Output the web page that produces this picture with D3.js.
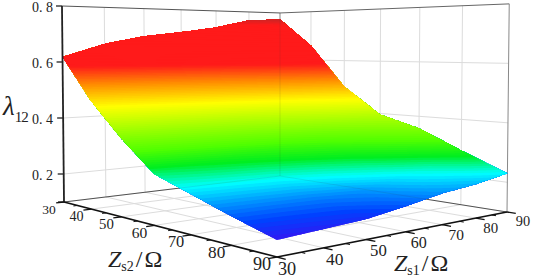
<!DOCTYPE html>
<html>
<head>
<meta charset="utf-8">
<script src="https://cdn.jsdelivr.net/npm/d3@7"></script>
<style>
html,body{margin:0;padding:0;background:#fff;}
text{font-family:"Liberation Serif",serif;fill:#222;}
</style>
</head>
<body>
<svg id="mainSVG" width="533" height="280"></svg>
<script>
var zs1Ticks = [30,40,50,60,70,80,90];
var zs2Ticks = [30,40,50,60,70,80,90];
var minorTicks = [35,45,55,65,75,85];
var lambdaTicks = [0.2,0.4,0.6];

// lambda12, one row per Zs2 value, one column per Zs1 value
var row30 = [.618,.665,.695,.712,.733,.765,.772];
var row40 = [.472,.490,.510,.540,.580,.630,.660];
var row50 = [.357,.370,.385,.400,.430,.470,.497];
var row60 = [.259,.275,.290,.310,.335,.370,.396];
var row70 = [.220,.225,.232,.250,.275,.315,.356];
var row80 = [.181,.184,.188,.198,.222,.250,.291];
var row90 = [.145,.152,.159,.177,.198,.210,.230];
var lambdaRows = [row30,row40,row50,row60,row70,row80,row90];

var colorStops = [.14,.17,.20,.232,.275,.32,.45,.52,.585,.745,.785];
var colorValues = ["#3c10f0","#0040ff","#0098ff","#00ffff","#00ee20","#50ff00","#ffff00","#ff9000","#ff1a1a","#ff1a1a","#b02a2a"];

var svg = d3.select("#mainSVG");

var color = d3.scaleLinear().domain(colorStops).range(colorValues).clamp(true);
var s1 = d3.scaleLinear().domain([30,90]).range([0,1]);
var s2 = d3.scaleLinear().domain([30,90]).range([0,1]);
var zPx = d3.scaleLinear().domain([0.1,0.8]).range([0,196]);

// floor corners on the page: (s1,s2) = 00 left, 10 back, 11 right, 01 front
var P00 = [64,202], P10 = [280,176], P11 = [507,212], P01 = [277,257];

var dx1 = P10[0]-P11[0], dy1 = P10[1]-P11[1];
var dx2 = P01[0]-P11[0], dy2 = P01[1]-P11[1];
var sx = P00[0]-P10[0]+P11[0]-P01[0], sy = P00[1]-P10[1]+P11[1]-P01[1];
var det = dx1*dy2-dx2*dy1;
var G = (sx*dy2-dx2*sy)/det;
var H = (dx1*sy-sx*dy1)/det;

function depthW(a,b){ return 1+G*a+H*b; }

function project(a,b,z){
  var w = depthW(a,b);
  var x = (P00[0]+(P10[0]*(1+G)-P00[0])*a+(P01[0]*(1+H)-P00[0])*b)/w;
  var y = (P00[1]+(P10[1]*(1+G)-P00[1])*a+(P01[1]*(1+H)-P00[1])*b)/w;
  var h = zPx(z)/w;
  return [x+(x-280)*h/21000, y-h];
}

function seg(p,q,col,width,op){
  svg.append("line").attr("x1",p[0]).attr("y1",p[1]).attr("x2",q[0]).attr("y2",q[1])
    .attr("stroke",col).attr("stroke-width",width).attr("stroke-opacity",op===undefined?1:op);
}

//Grid on walls and floor
var gridCol = "#dcdcdc";
zs1Ticks.slice(1,-1).forEach(function(t){
  seg(project(s1(t),0,.1),project(s1(t),0,.8),gridCol,1);
  seg(project(s1(t),0,.1),project(s1(t),1,.1),gridCol,1);
});
zs2Ticks.slice(1,-1).forEach(function(t){
  seg(project(1,s2(t),.1),project(1,s2(t),.8),gridCol,1);
  seg(project(0,s2(t),.1),project(1,s2(t),.1),gridCol,1);
});
lambdaTicks.forEach(function(t){
  seg(project(0,0,t),project(1,0,t),gridCol,1);
  seg(project(1,0,t),project(1,1,t),gridCol,1);
});

//Box edges
seg(project(0,0,.1),project(1,0,.1),"#555",1);
seg(project(1,0,.1),project(1,1,.1),"#555",1);
seg(project(1,0,.1),project(1,0,.8),"#999",1);
seg(project(1,1,.1),project(1,1,.8),"#888",1);
seg(project(0,0,.8),project(1,0,.8),"#555",1);
seg(project(1,0,.8),project(1,1,.8),"#666",1);

//Surface: value on a fine grid, filled contour bands, low to high
function valueAt(a,b){
  var fi = Math.min(a*6,5.999999), fj = Math.min(b*6,5.999999);
  var i = Math.floor(fi), j = Math.floor(fj), u = fi-i, v = fj-j;
  var r0 = lambdaRows[j], r1 = lambdaRows[j+1];
  return (r0[i]*(1-u)+r0[i+1]*u)*(1-v)+(r1[i]*(1-u)+r1[i+1]*u)*v;
}
var n = 181;
var field = new Array(n*n);
d3.range(n).forEach(function(j){
  d3.range(n).forEach(function(i){
    field[j*n+i] = valueAt(i/(n-1),j/(n-1));
  });
});
var levels = d3.range(.14,.78,.0055);
var bands = d3.contours().size([n,n]).thresholds(levels)(field);
var clampUnit = d3.scaleLinear().domain([.5,n-.5]).range([0,1]).clamp(true);
var surfacePath = d3.geoPath(d3.geoTransform({
  point:function(cx,cy){
    var a = clampUnit(cx), b = clampUnit(cy);
    var p = project(a,b,valueAt(a,b));
    this.stream.point(p[0],p[1]);
  }
}));
svg.append("g").selectAll("path").data(bands).enter().append("path")
  .attr("d",surfacePath)
  .attr("fill",function(d){ return color(d.value+.00275); });

//Faint lines showing through the surface
seg(project(1,0,.1),project(1,0,.8),"#333",1,.12);
seg(project(0,0,.1),project(1,0,.1),"#333",1,.1);
seg(project(1,0,.1),project(1,1,.1),"#333",1,.1);

//Axes
seg(project(0,0,.1),project(0,0,.8),"#222",1.8);
seg(project(0,0,.1),project(0,1,.1),"#111",1.6);
seg(project(0,1,.1),project(1,1,.1),"#111",1.6);

lambdaTicks.concat([.8,.1]).forEach(function(t){
  var p = project(0,0,t);
  seg([p[0]-6,p[1]],p,"#222",1.3);
});
lambdaTicks.concat([.8]).forEach(function(t){
  var p = project(0,0,t);
  svg.append("text").attr("x",53).attr("y",p[1]+6).attr("text-anchor","end")
    .attr("font-size",14).text("0. "+Math.round(t*10));
});

// tick labels get bigger toward the viewer
zs2Ticks.forEach(function(t){
  seg(project(-.03,s2(t),.1),project(0,s2(t),.1),"#111",1.3);
  var p = project(0,s2(t),.1);
  var fs = 13.5/depthW(0,s2(t));
  svg.append("text").attr("x",p[0]-15).attr("y",p[1]+7+fs*.34).attr("text-anchor","middle")
    .attr("font-size",fs).text(t);
});
var s1dx = d3.scaleLinear().domain([30,90]).range([10,16]);
var s1dy = d3.scaleLinear().domain([30,90]).range([12,9]);
zs1Ticks.forEach(function(t){
  seg(project(s1(t),1,.1),project(s1(t),1.03,.1),"#111",1.3);
  var p = project(s1(t),1,.1);
  var fs = 13.5/depthW(s1(t),1);
  svg.append("text").attr("x",p[0]+s1dx(t)).attr("y",p[1]+s1dy(t)+fs*.34).attr("text-anchor","middle")
    .attr("font-size",fs).text(t);
});
minorTicks.forEach(function(t){
  seg(project(-.015,s2(t),.1),project(0,s2(t),.1),"#111",1);
  seg(project(s1(t),1,.1),project(s1(t),1.015,.1),"#111",1);
});

//Axis titles
function axisTitle(x,y,sub){
  var t = svg.append("text").attr("x",x).attr("y",y).attr("font-size",24);
  t.append("tspan").attr("font-style","italic").text("Z");
  t.append("tspan").attr("font-size",14).attr("dy",4).text(sub);
  t.append("tspan").attr("dy",-4).attr("dx",2).text("/");
  t.append("tspan").attr("dx",2).text("Ω");
}
axisTitle(108,267,"s2");
axisTitle(394,271,"s1");

var lam = svg.append("text").attr("x",3).attr("y",115).attr("font-size",27);
lam.append("tspan").attr("font-style","italic").text("λ");
lam.append("tspan").attr("font-size",15).attr("letter-spacing",-1).attr("dy",7).text("12");
</script>
</body>
</html>
